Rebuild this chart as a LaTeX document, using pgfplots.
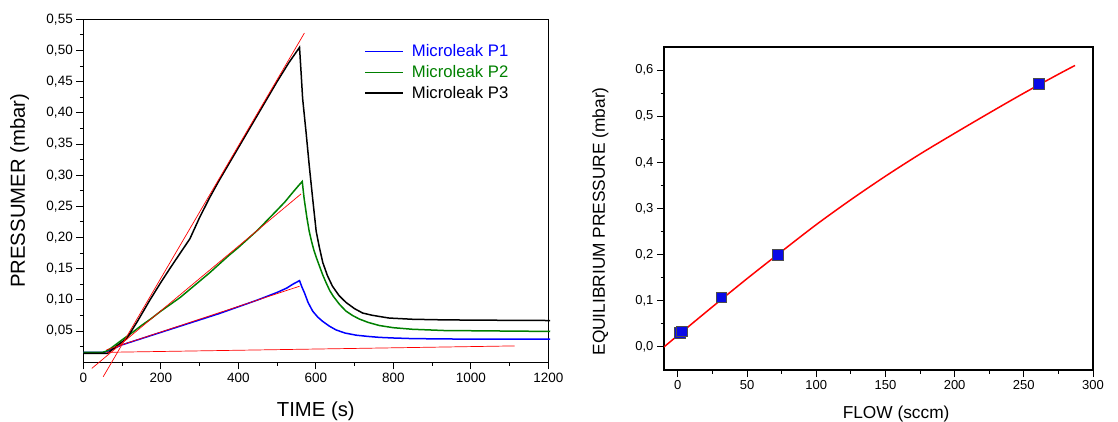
\documentclass[border=0pt]{standalone}
\usepackage{pgfplots}
\pgfplotsset{compat=1.18}
\usepackage{fontspec}
\setmainfont{Liberation Sans}
\definecolor{myblue}{RGB}{0,0,255}
\definecolor{mygreen}{RGB}{0,128,0}
\definecolor{myred}{RGB}{255,0,0}
\definecolor{sqblue}{RGB}{10,10,230}

\pgfplotsset{
  mystyle/.style={
    scale only axis,
    tick align=outside,
    xtick pos=bottom, ytick pos=left,
    major tick length=7pt, minor tick length=3.5pt,
    every tick/.style={black, line width=1pt},
    axis line style={line width=1.2pt},
    /pgf/number format/assume math mode=true,
    /pgf/number format/use comma,
  }
}

\begin{document}
\begin{tikzpicture}
\path[use as bounding box] (0pt,0pt) rectangle (1118pt,-421pt);

% ---------------- left axis ----------------
\begin{axis}[
  mystyle,
  at={(83.3pt,-362.3pt)}, anchor=south west,
  width=465pt, height=343pt,
  xmin=0, xmax=1200, ymin=0, ymax=0.55,
  clip=false,
  xtick={0,200,400,600,800,1000,1200},
  minor xtick={100,300,500,700,900,1100},
  ytick={0.05,0.1,0.15,0.2,0.25,0.3,0.35,0.4,0.45,0.5,0.55},
  minor ytick={0.025,0.075,0.125,0.175,0.225,0.275,0.325,0.375,0.425,0.475,0.525},
  yticklabel style={/pgf/number format/.cd, fixed, fixed zerofill, precision=2},
  xticklabel style={/pgf/number format/.cd, fixed, precision=0, 1000 sep={}},
  tick label style={font=\fontsize{13.5}{16}\selectfont},
  every axis x label/.style={at={(axis description cs:0.5,-0.1437)}, anchor=center},
  every axis y label/.style={at={(axis description cs:-0.137,0.5)}, rotate=90, anchor=center},
  label style={font=\fontsize{20.3}{23}\selectfont},
  xlabel={TIME (s)},
  ylabel={PRESSUMER (mbar)},
  legend style={at={(rel axis cs:0.604,0.932)}, anchor=north west, draw=none, fill=none,
    inner sep=0pt, row sep=3.2pt, font=\fontsize{16.7}{20}\selectfont,
    nodes={inner sep=2pt}},
  legend cell align=left,
  legend image code/.code={\draw[#1] (0pt,0pt) -- (38pt,0pt); \path (44pt,0pt);},
]
% Microleak P1
\addplot[myblue, line width=1.5pt, forget plot] coordinates {
(0,0.016) (50,0.016) (58,0.0168) (66,0.019) (75,0.0215) (85,0.024) (100,0.028)
(150,0.038) (200,0.048) (250,0.058) (300,0.068) (350,0.078) (400,0.089) (450,0.100)
(475,0.106) (500,0.112) (525,0.119) (540,0.125) (552,0.129) (558,0.131)
(564,0.121) (571,0.111) (580,0.096) (592,0.082) (605,0.0725) (618,0.0655) (635,0.058)
(652,0.052) (675,0.047) (704,0.0435) (735,0.0415) (764,0.040) (800,0.039) (849,0.038)
(930,0.0375) (1021,0.037) (1205,0.037)
};
% Microleak P2
\addplot[mygreen, line width=1.5pt, forget plot] coordinates {
(0,0.016) (50,0.016) (58,0.0175) (70,0.022) (85,0.029) (100,0.036) (125,0.047)
(150,0.059) (175,0.070) (200,0.082) (225,0.093) (250,0.104) (275,0.117) (300,0.130)
(325,0.143) (350,0.157) (375,0.171) (400,0.184) (425,0.198) (450,0.212) (475,0.228)
(500,0.244) (520,0.257) (540,0.272) (555,0.283) (565,0.290)
(570,0.262) (577,0.232) (583,0.210) (589,0.194) (595,0.180) (602,0.167) (609,0.155)
(618,0.140) (627,0.127) (636,0.115) (645,0.106) (661,0.093) (678,0.082) (695,0.075)
(712,0.0695) (735,0.064) (764,0.059) (800,0.0555) (849,0.053) (930,0.051)
(1021,0.0505) (1205,0.0495)
};
% Microleak P3
\addplot[black, line width=1.5pt, forget plot] coordinates {
(0,0.0142) (62,0.0142) (70,0.018) (90,0.028) (112,0.038) (140,0.066) (172,0.100)
(200,0.128) (223,0.150) (250,0.175) (275,0.198) (300,0.232) (326,0.264) (350,0.291)
(400,0.344) (450,0.397) (500,0.450) (530,0.480) (558,0.505)
(562,0.465) (566,0.423) (575,0.368) (583,0.316) (592,0.262) (601,0.210) (609,0.185)
(618,0.160) (630,0.139) (643,0.122) (660,0.107) (678,0.096) (700,0.086) (721,0.079)
(745,0.0755) (764,0.0735) (789,0.071) (850,0.069) (935,0.068) (1050,0.0675) (1205,0.067)
};
% linear fits
\addplot[myred, line width=0.7pt, forget plot] coordinates {(60,0.020) (558,0.122)};
\addplot[myred, line width=0.7pt, forget plot] coordinates {(22,-0.0097) (562,0.270)};
\addplot[myred, line width=0.7pt, forget plot] coordinates {(51.5,-0.023) (570.6,0.528)};
\addplot[myred, line width=0.7pt, forget plot] coordinates {(60,0.0160) (1113,0.0263)};
% legend
\addlegendimage{myblue, line width=1.5pt}
\addlegendentry{\textcolor{myblue}{Microleak P1}}
\addlegendimage{mygreen, line width=1.5pt}
\addlegendentry{\textcolor{mygreen}{Microleak P2}}
\addlegendimage{black, line width=1.5pt}
\addlegendentry{\textcolor{black}{Microleak P3}}
\end{axis}

% ---------------- right axis ----------------
\begin{axis}[
  mystyle,
  at={(664pt,-370pt)}, anchor=south west,
  width=429pt, height=323pt,
  xmin=-10, xmax=300, ymin=-0.05, ymax=0.65,
  xtick={0,50,100,150,200,250,300},
  minor xtick={25,75,125,175,225,275},
  ytick={0,0.1,0.2,0.3,0.4,0.5,0.6},
  minor ytick={0.05,0.15,0.25,0.35,0.45,0.55},
  yticklabel style={/pgf/number format/.cd, fixed, fixed zerofill, precision=1},
  xticklabel style={/pgf/number format/.cd, fixed, precision=0},
  tick label style={font=\fontsize{13}{15}\selectfont},
  every axis x label/.style={at={(axis description cs:0.541,-0.136)}, anchor=center},
  every axis y label/.style={at={(axis description cs:-0.148,0.46)}, rotate=90, anchor=center},
  label style={font=\fontsize{17.3}{20}\selectfont},
  xlabel={FLOW (sccm)},
  ylabel={EQUILIBRIUM PRESSURE (mbar)},
]
\addplot[only marks, mark=square*, mark size=5.3pt,
  mark options={fill=sqblue, draw=black!70, line width=0.8pt}] coordinates {
(1.5,0.030) (3,0.034) (31.5,0.107) (72.2,0.199) (260.8,0.570)
};
\addplot[myred, line width=1.5pt, smooth] coordinates {
(-10,0.000) (0,0.025) (25,0.087) (50,0.148) (75,0.207) (100,0.265) (125,0.319)
(150,0.370) (175,0.418) (200,0.463) (225,0.507) (250,0.550) (275,0.591) (287,0.610)
};
\end{axis}
\end{tikzpicture}
\end{document}
